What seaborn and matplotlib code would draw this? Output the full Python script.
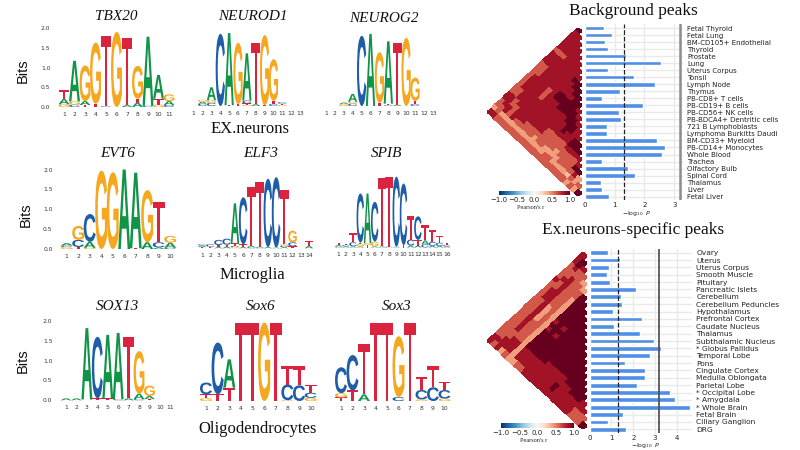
import numpy as np
import pandas as pd
import seaborn as sns
import matplotlib.pyplot as plt
from matplotlib.font_manager import FontProperties
from matplotlib.patches import PathPatch
from matplotlib.textpath import TextPath
from matplotlib.transforms import Affine2D

# ---- motif stacks : (letter, bits), bottom to top, one list per position
TBX20 = [[('G',.07),('A',.13),('T',.22)], [('C',.06),('G',.08),('A',1.03)], [('T',.05),('A',.1),('G',.9)],
         [('T',.08),('G',1.55)], [('C',.02),('T',1.78)], [('G',1.9)], [('A',.05),('T',1.7)],
         [('A',.11),('T',.1),('G',.83)], [('C',.03),('A',1.75)], [('G',.06),('T',.15),('A',.6)],
         [('C',.05),('A',.1),('G',.17)]]
NEUROD1 = [[], [('C',.06),('A',.05),('G',.05)], [('C',.08),('G',.07),('A',.33)], [('C',1.85)], [('T',.02),('A',1.85)],
           [('T',.05),('G',1.57)], [('G',.03),('T',.04),('C',.07),('A',1.21)], [('A',.05),('T',1.57)],
           [('T',.02),('G',1.8)], [('C',.05),('T',.08),('G',1.07)], [('G',.03),('T',.03),('C',.04)], [], []]
NEUROG2 = [[], [], [('G',.05),('A',.04)], [('C',.06),('G',.05),('A',.2)], [('C',1.8)], [('A',1.85)],
           [('T',.08),('G',1.3)], [('C',.02),('T',.04),('A',1.6)], [('A',.03),('T',1.58)], [('G',1.75)],
           [('C',.05),('T',.08),('G',.6)], [], []]
EVT6 = [[('G',.05),('C',.04),('A',.06)], [('T',.05),('C',.18),('G',.35)], [('G',.03),('A',.15),('C',.7)],
        [('G',1.97)], [('G',1.93)], [('A',2.0)], [('T',.02),('A',1.9)], [('A',.17),('G',1.31)],
        [('A',.04),('C',.13),('T',1.02)], [('C',.03),('A',.13),('G',.17)]]
ELF3 = [[('T',.03),('A',.04),('C',.03)], [('T',.04),('C',.06)], [('A',.03),('T',.05),('C',.13)],
        [('A',.04),('T',.05),('C',.15)], [('G',.03),('C',.03),('T',.06),('A',1.0)], [('A',.03),('T',.07),('C',1.17)],
        [('C',.03),('A',.03),('T',1.46)], [('C',.02),('A',.02),('T',1.6)], [('A',.03),('C',1.7)], [('A',.02),('C',1.75)],
        [('A',.03),('C',.03),('G',.04),('T',1.36)], [('T',.05),('C',.1),('G',.29)], [], [('A',.06),('T',.12)]]
SPIB = [[('C',.03),('A',.03),('T',.06)], [('A',.03),('C',.03),('T',.04)], [('A',.03),('C',.1),('T',.23)],
        [('A',.03),('G',.06),('T',.03),('C',1.23)], [('T',.06),('G',.05),('A',1.24)], [('A',.03),('G',.12),('C',.99)],
        [('A',.03),('T',1.7)], [('C',.02),('T',1.75)], [('A',.02),('C',1.75)], [('T',.06),('C',1.54)],
        [('A',.05),('C',.15),('T',.58)], [('A',.05),('T',.14),('C',.59)], [('C',.08),('A',.1),('T',.38)],
        [('A',.04),('C',.1),('T',.31)], [('A',.04),('C',.08),('T',.16)], [('A',.03),('C',.03),('T',.05)]]
SOX13 = [[('A',.05)], [('A',.05)], [('T',.02),('A',1.8)], [('T',.05),('C',1.55)], [('T',.05),('A',1.6)],
         [('C',.03),('A',1.67)], [('A',.05),('T',1.55)], [('C',.03),('A',.14),('G',1.07)], [('T',.03),('A',.08),('G',.26)], [], []]
SOX6 = [[('G',.07),('T',.1),('C',.3)], [('T',.17),('C',1.32)], [('T',.34),('A',.72)], [('T',2.0)], [('T',2.0)], [('G',2.0)],
        [('T',2.0)], [('G',.02),('C',.4),('T',.46)], [('C',.4),('T',.48)], [('G',.08),('C',.13),('T',.2)]]
SOX3 = [[('T',.09),('G',.11),('C',.66)], [('T',.27),('C',.9)], [('A',.17),('T',1.29)], [('T',2.0)], [('T',2.0)],
        [('C',.1),('G',1.55)], [('T',2.0)], [('G',.04),('C',.24),('T',.32)], [('C',.35),('T',.53)], [('G',.06),('C',.22),('T',.2)]]

# ---- bars, top to bottom
bg_tissues = ['Fetal Thyroid', 'Fetal Lung', 'BM-CD105+ Endothelial', 'Thyroid', 'Prostate', 'Lung', 'Uterus Corpus',
              'Tonsil', 'Lymph Node', 'Thymus', 'PB-CD8+ T cells', 'PB-CD19+ B cells', 'PB-CD56+ NK cells',
              'PB-BDCA4+ Dentritic cells', '721 B Lymphoblasts', 'Lymphoma Burkitts Daudi', 'BM-CD33+ Myeloid',
              'PB-CD14+ Monocytes', 'Whole Blood', 'Trachea', 'Olfactory Bulb', 'Spinal Cord', 'Thalamus', 'Liver',
              'Fetal Liver']
bg_values = [.64, .91, .67, .78, 1.39, 2.54, .78, 1.66, 2.36, 1.17, .57, 1.96, 1.14, 1.23, .74, .76, 2.41, 2.7, 2.59,
             .59, 1.44, 1.69, .53, .59, .8]
ex_tissues = ['Ovary', 'Uterus', 'Uterus Corpus', 'Smooth Muscle', 'Pituitary', 'Pancreatic Islets', 'Cerebellum',
              'Cerebellum Peduncles', 'Hypothalamus', 'Prefrontal Cortex', 'Caudate Nucleus', 'Thalamus',
              'Subthalamic Nucleus', '* Globus Pallidus', 'Temporal Lobe', 'Pons', 'Cingulate Cortex',
              'Medulla Oblongata', 'Parietal Lobe', '* Occipital Lobe', '* Amygdala', '* Whole Brain', 'Fetal Brain',
              'Ciliary Ganglion', 'DRG']
ex_values = [.86, 1.38, .87, .8, .95, 2.11, 1.43, 1.47, 1.07, 2.41, 1.12, 2.3, 2.94, 3.26, 2.79, 1.62, 2.53, 2.56, 2.19,
             3.69, 3.94, 4.61, 1.53, .84, 1.67]

# ---- correlation triangles, one string per row i (columns j = i..24)
r_levels = {'e': .3, 'a': .42, 'b': .62, 'c': .84, 'd': 1.0}
bg_rows = ['dcccccbcccbbbbbbbbbccbbac', 'cccccbcccbbbccccbbcccbbc', 'ccccbccccccccccccbbccab', 'ccccccccccccccccc' + 'bbbab',
           'ccccccccccccccccccc' + 'ab', 'ccccccccbbbccccccbab', 'ccccccccccccccccbab', 'cdcccddcccccccbbab',
           'ddccddcccccccbbab', 'ddcdddccccccbbab', 'dddddccccccbaab', 'ddddccccbbbbab', 'cdddcccbbbbab', 'cddddcbbbaab',
           'cddccbbbabb', 'ccccbbaabb', 'cddcbbaab', 'ddcbbbab', 'dcbbbab', 'cbbbab', 'cdbeb', 'dcba', 'aab', 'ba', 'd']
ex_rows = ['cccbbbbcbbbbbbbbbbbbbbbcc', 'ddcbbcbbcccbbbbbbbbbbbcb', 'cbbcccccccccccccccbbccc', 'bbbbbbbbbaaaabbbbbccca',
           'abbbbbbbbbbbbbbbbcccb', 'abbaaaaaaaaaaaaaaaaa', 'dddddddcdcdddddccca', 'ddddddddddddddcccb', 'dddddcdcdddddcccb',
           'ddddddddddddcccc', 'dddddddddddcccc', 'dddddddddccccc', 'ddddddddccccc', 'dddddddccccc', 'ddddddccccc',
           'dddddccddc', 'dddddcccc', 'ddddcccc', 'ddddccc', 'dddccc', 'ddccc', 'ccbb', 'cbb', 'bb', 'd']

sns.set_theme(style='white')
plt.rcParams['font.family'] = ['DejaVu Sans']

fig = plt.figure(figsize=(8, 4.5), dpi=100)


def ax_px(l, t, r, b):
    return fig.add_axes([l / 800, 1 - b / 450, (r - l) / 800, (b - t) / 450])


def txt(x, y, s, **kw):
    fig.text(x / 800, 1 - y / 450, s, ha='center', va='center', **kw)


colors = {'A': '#0f9448', 'C': '#1f5da8', 'G': '#f5a81f', 'T': '#d9233f'}
bold = FontProperties(family='Liberation Sans', weight='bold')


def logo(stacks, x1, dx, y0, y2, with_y=False):
    n = len(stacks)
    ax = ax_px(x1 - dx / 2, y2, x1 + (n - .5) * dx, y0)
    ax.set_xlim(.5, n + .5)
    ax.set_ylim(0, 2)
    for pos, stack in enumerate(stacks, start=1):
        bottom = 0
        for letter, h in stack:
            tp = TextPath((0, 0), letter, size=1, prop=bold)
            bb = tp.get_extents()
            tr = Affine2D().translate(-bb.x0, -bb.y0).scale(1.04 / bb.width, h / bb.height).translate(pos - .52, bottom)
            ax.add_patch(PathPatch(tr.transform_path(tp), fc=colors[letter], lw=0, clip_on=False))
            bottom += h
    ax.set_xticks(range(1, n + 1))
    ax.set_yticks([0, .5, 1, 1.5, 2] if with_y else [])
    ax.set_yticklabels(['0.0', '0.5', '1.0', '1.5', '2.0'] if with_y else [])
    ax.tick_params(length=0, labelsize=4.3, labelcolor='#333333', pad=3.5)
    ax.tick_params(axis='y', pad=6)
    sns.despine(ax=ax, left=True, bottom=True)
    ax.patch.set_alpha(0)


logo(TBX20, 64, 10.5, 107, 28, True)
logo(NEUROD1, 193.7, 8.86, 106, 28)
logo(NEUROG2, 326, 8.9, 106, 28)
logo(EVT6, 66.7, 11.5, 249, 169.5, True)
logo(ELF3, 202, 8.23, 248.3, 168)
logo(SPIB, 338.7, 7.2, 247.5, 167.5)
logo(SOX13, 66, 10.43, 400.3, 321, True)
logo(SOX6, 206, 11.63, 401, 322.5)
logo(SOX3, 341, 11.5, 401, 322.5)

serif = 'Liberation Serif'
for x, y, s in [(116, 17, 'TBX20'), (253, 17, 'NEUROD1'), (384, 18, 'NEUROG2'), (118, 153, 'EVT6'), (261, 153, 'ELF3'),
                (387, 153, 'SPIB'), (117, 307, 'SOX13'), (261, 306, 'Sox6'), (397, 306, 'Sox3')]:
    txt(x, y, s, family=serif, style='italic', fontsize=11, color='#111111')
for x, y, s in [(250, 129, 'EX.neurons'), (252, 275, 'Microglia'), (258, 429, 'Oligodendrocytes')]:
    txt(x, y, s, family=serif, fontsize=12, color='#111111')
for x, y in [(23, 71), (26, 215), (23, 361)]:
    txt(x, y, 'Bits', family='Liberation Sans', fontsize=10.5, rotation=90, color='#111111')
txt(633, 11, 'Background peaks', family=serif, fontsize=12.5, color='#111111')
txt(633, 230, 'Ex.neurons-specific peaks', family=serif, fontsize=12.5, color='#111111')

cmap = sns.color_palette('RdBu_r', as_cmap=True)


def triangle(rows, left, right, first, last, cbar_rect, lab_y):
    mat = np.full((25, 25), np.nan)
    for i, row in enumerate(rows):
        for k, ch in enumerate(row):
            mat[i, i + k] = r_levels[ch]
    dy = (last - first) / 24
    ax = ax_px(left, first - dy / 2, right, last + dy / 2)
    sns.heatmap(mat, mask=np.isnan(mat), vmin=-1, vmax=1, cmap=cmap, cbar=False, ax=ax, xticklabels=False,
                yticklabels=False)
    mesh = ax.collections[0]
    mesh.set_edgecolor('face')
    mesh.set_linewidth(.3)
    # rotate the upper triangle : (c, r) -> (r - c, (c + r) / 2)
    mesh.set_transform(Affine2D(np.array([[-1, 1, 0], [.5, .5, 0], [0, 0, 1]])) + ax.transData)
    ax.set_xlim(-25, 1)
    ax.set_ylim(25, 0)
    ax.axis('off')
    cax = ax_px(*cbar_rect)
    cb = fig.colorbar(mesh, cax=cax, orientation='horizontal')
    cb.set_ticks([-1, -.5, 0, .5, 1])
    cb.ax.tick_params(labelsize=5, length=0, pad=1.5, labelcolor='#222222')
    cb.outline.set_visible(False)
    txt((cbar_rect[0] + cbar_rect[2]) / 2 - 4, lab_y, "Pearson's r", family=serif, fontsize=4.5, color='#222222')


def bars(tissues, values, left, right, first, last, xmax, xticks, thr_lw, thr_col, lab_x, lab_y, lab_size):
    df = pd.DataFrame({'tissue': tissues, 'p': values})
    dy = (last - first) / 24
    ax = ax_px(left, first - dy / 2, right, last + dy / 2)
    sns.barplot(df, x='p', y='tissue', color='#4f8fe6', saturation=1, width=.65, ax=ax)
    ax.set_xlim(0, xmax)
    ax.set_ylim(24.5, -.5)
    ax.set_xticks(xticks)
    ax.set_xlabel('')
    ax.set_ylabel('')
    ax.yaxis.tick_right()
    ax.tick_params(axis='y', length=0, labelsize=lab_size, pad=3, labelcolor='#222222')
    ax.tick_params(axis='x', length=0, labelsize=5, pad=1.5, labelcolor='#222222')
    ax.grid(True, color='#e9e9e9', lw=1)
    ax.set_axisbelow(True)
    sns.despine(ax=ax, left=True, bottom=True)
    ax.axvline(1.3, color='#222222', lw=.9, ls='--')
    ax.axvline(3.19, color=thr_col, lw=thr_lw)
    txt(lab_x, lab_y, r'$-\log_{10}\ P$', fontsize=4.4, color='#222222')


triangle(bg_rows, 487, 582, 31, 193, (499, 191, 570, 195), 207.5)
bars(bg_tissues, bg_values, 584.7, 683, 28, 196.7, 3.29, [0, 1, 2, 3], 1.8, '#8c8c8c', 636, 213, 5.05)

triangle(ex_rows, 487, 587, 256, 425.7, (501, 423, 574, 428), 441)
bars(ex_tissues, ex_values, 589.7, 692, 252.7, 429.3, 4.7, [0, 1, 2, 3, 4], 1.3, '#555555', 645, 446, 5.4)

fig.savefig('out.png', dpi=100)
